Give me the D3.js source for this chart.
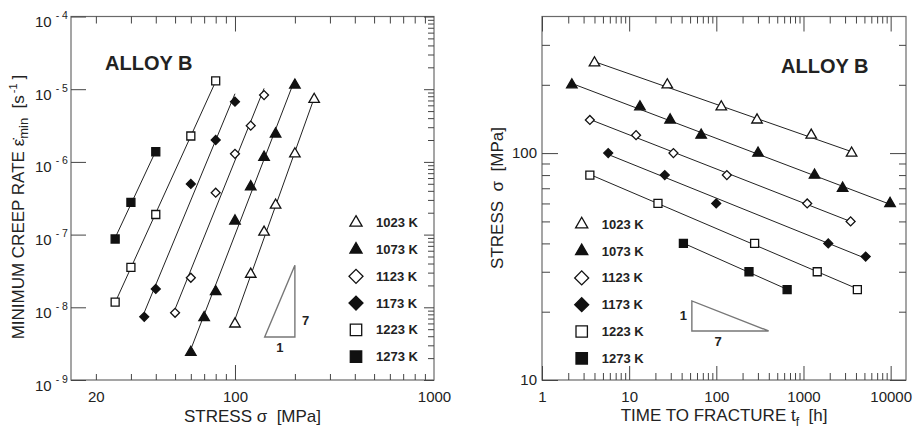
<!DOCTYPE html>
<html>
<head>
<meta charset="utf-8">
<script src="https://cdn.jsdelivr.net/npm/d3@7/dist/d3.min.js"></script>
<style>
  body { margin: 0; background: #fff; }
  svg { font-family: "Liberation Sans", Arial, Helvetica, sans-serif; }
</style>
</head>
<body>
<div id="chart"></div>
<script>
// Data
const temps = ['1023 K', '1073 K', '1123 K', '1173 K', '1223 K', '1273 K'];

// left panel: stress [MPa] vs minimum creep rate [1/s]
const creepStress = [
  [100, 120, 140, 160, 200, 250],
  [60, 70, 80, 100, 120, 140, 160, 200],
  [50, 60, 80, 100, 120, 140],
  [35, 40, 60, 80, 100],
  [25, 30, 40, 60, 80],
  [25, 30, 40]
];
const creepRate = [
  [5.9e-9, 2.85e-8, 1.08e-7, 2.55e-7, 1.29e-6, 7.26e-6],
  [2.4e-9, 7.2e-9, 1.64e-8, 1.54e-7, 4.56e-7, 1.16e-6, 2.42e-6, 1.14e-5],
  [8.4e-9, 2.55e-8, 3.77e-7, 1.29e-6, 3.15e-6, 8.3e-6],
  [7.4e-9, 1.79e-8, 4.97e-7, 2.0e-6, 6.73e-6],
  [1.18e-8, 3.55e-8, 1.89e-7, 2.27e-6, 1.3e-5],
  [8.7e-8, 2.78e-7, 1.38e-6]
];

// right panel: time to fracture [h] vs stress [MPa]
const ruptTime = [
  [4.0, 27.4, 114, 293, 1227, 3565],
  [2.2, 13.3, 29.5, 67, 301, 1339, 2812, 9840],
  [3.54, 12, 32.2, 132, 1103, 3473],
  [5.75, 25.6, 99.7, 1924, 5168],
  [3.54, 21.4, 275, 1438, 4150],
  [41.9, 237, 649]
];
const ruptStress = [
  [250, 200, 160, 140, 120, 100],
  [200, 160, 140, 120, 100, 80, 70, 60],
  [140, 120, 100, 80, 60, 50],
  [100, 80, 60, 40, 35],
  [80, 60, 40, 30, 25],
  [40, 30, 25]
];

// tick labels
const stressLabelTicks = [20, 100, 1000];
const rateExponents = [-9, -8, -7, -6, -5, -4];
const timeLabelTicks = [1, 10, 100, 1000, 10000];
const stressLabelTicksR = [10, 100];

// slope triangles (corners in data units)
const slopeTriLeftX = [141, 200];
const slopeTriLeftY = [3.9e-9, 3.8e-8];
const slopeTriRightX = [52.4, 398];
const slopeTriRightY = [16.45, 22.3];

// marker styles per temperature
const markerType = [d3.symbolTriangle, d3.symbolTriangle, d3.symbolSquare, d3.symbolSquare, d3.symbolSquare, d3.symbolSquare];
const markerFill = ['#fff', '#111', '#fff', '#111', '#fff', '#111'];
const markerRot = [0, 0, 45, 45, 0, 0];
const dataSize = [48, 48, 40, 40, 64, 64];
const legendSize = [64, 64, 98, 98, 130, 130];

const W = 917, H = 430;
const svg = d3.select('#chart').append('svg')
  .attr('width', W).attr('height', H)
  .style('background', '#fff');

const frameColor = '#6a6a6a';
const tickColor = '#444';

function minorTicks(lo, hi) {
  const out = [];
  for (let e = lo; e < hi; e++) {
    for (let m = 2; m <= 9; m++) out.push(m * Math.pow(10, e));
  }
  return out;
}

function tickAxis(g, axis, values, size) {
  const a = g.append('g').call(axis.tickValues(values).tickSize(size).tickFormat(''));
  a.select('.domain').remove();
  a.selectAll('line').attr('stroke', tickColor).attr('stroke-width', 1);
  return a;
}

function fit(xs, ys) {
  const lx = xs.map(Math.log10), ly = ys.map(Math.log10);
  const mx = d3.mean(lx), my = d3.mean(ly);
  const b = d3.sum(lx, (v, i) => (v - mx) * (ly[i] - my)) / d3.sum(lx, v => (v - mx) * (v - mx));
  const a = my - b * mx;
  const x0 = d3.min(xs), x1 = d3.max(xs);
  return [[x0, Math.pow(10, a + b * Math.log10(x0))], [x1, Math.pow(10, a + b * Math.log10(x1))]];
}

function marker(g, i, size, cx, cy) {
  g.append('path')
    .attr('d', d3.symbol().type(markerType[i]).size(size)())
    .attr('transform', `translate(${cx},${cy}) rotate(${markerRot[i]})`)
    .attr('fill', markerFill[i])
    .attr('stroke', '#111')
    .attr('stroke-width', 1.3);
}

function legend(g, x0, y0) {
  temps.forEach((t, i) => {
    const cy = y0 + i * 26.8;
    marker(g, i, legendSize[i], x0, cy);
    g.append('text')
      .attr('x', x0 + 20).attr('y', cy + 4.5)
      .attr('font-size', 13).attr('font-weight', 'bold').attr('fill', '#222')
      .text(t);
  });
}

// ---------------- left panel ----------------
const L = { left: 71, right: 434, top: 16.5, bottom: 380 };
const xL = d3.scaleLog().domain([15, 1000]).range([L.left, L.right]);
const yL = d3.scaleLog().domain([1e-9, 1e-4]).range([L.bottom, L.top]);
const gL = svg.append('g');

gL.append('rect')
  .attr('x', L.left).attr('y', L.top)
  .attr('width', L.right - L.left).attr('height', L.bottom - L.top)
  .attr('fill', 'none').attr('stroke', frameColor).attr('stroke-width', 1.2);

const xMinorL = minorTicks(1, 3);
tickAxis(gL.append('g').attr('transform', `translate(0,${L.bottom})`), d3.axisBottom(xL), [100], -15);
tickAxis(gL.append('g').attr('transform', `translate(0,${L.bottom})`), d3.axisBottom(xL), xMinorL, -6);
tickAxis(gL.append('g').attr('transform', `translate(0,${L.top})`), d3.axisTop(xL), [100], -15);
tickAxis(gL.append('g').attr('transform', `translate(0,${L.top})`), d3.axisTop(xL), xMinorL, -7);
const rateMajor = rateExponents.map(e => Math.pow(10, e));
tickAxis(gL.append('g').attr('transform', `translate(${L.left},0)`), d3.axisLeft(yL), rateMajor, -15);
tickAxis(gL.append('g').attr('transform', `translate(${L.right},0)`), d3.axisRight(yL), rateMajor, -10);
tickAxis(gL.append('g').attr('transform', `translate(${L.right},0)`), d3.axisRight(yL), minorTicks(-9, -4), -6);

// x tick labels
const xlabL = gL.append('g').attr('transform', `translate(0,${L.bottom})`)
  .call(d3.axisBottom(xL).tickValues(stressLabelTicks).tickSize(0).tickPadding(11).tickFormat(d3.format('d')));
xlabL.select('.domain').remove();
xlabL.selectAll('text').attr('font-size', 15).attr('fill', '#222').attr('font-family', null);

// y tick labels 10^n
rateExponents.forEach(e => {
  const t = gL.append('text')
    .attr('x', 35).attr('y', yL(Math.pow(10, e)) + 10.5)
    .attr('fill', '#222').attr('font-size', 15);
  t.append('tspan').text('10');
  t.append('tspan').attr('dx', 4).attr('dy', -8).attr('font-size', 10.5).text(String(e).replace('-', '- '));
});

// fit lines + points
creepStress.forEach((xs, i) => {
  const seg = fit(xs, creepRate[i]);
  gL.append('line')
    .attr('x1', xL(seg[0][0])).attr('y1', yL(seg[0][1]))
    .attr('x2', xL(seg[1][0])).attr('y2', yL(seg[1][1]))
    .attr('stroke', '#222').attr('stroke-width', 1);
});
creepStress.forEach((xs, i) => {
  xs.forEach((s, j) => marker(gL, i, dataSize[i], xL(s), yL(creepRate[i][j])));
});

// slope triangle
gL.append('path')
  .attr('d', d3.line()([
    [xL(slopeTriLeftX[0]), yL(slopeTriLeftY[0])],
    [xL(slopeTriLeftX[1]), yL(slopeTriLeftY[0])],
    [xL(slopeTriLeftX[1]), yL(slopeTriLeftY[1])]
  ]) + 'Z')
  .attr('fill', 'none').attr('stroke', '#777').attr('stroke-width', 1.4);
gL.append('text')
  .attr('x', xL(slopeTriLeftX[1]) + 7).attr('y', yL(Math.sqrt(slopeTriLeftY[0] * slopeTriLeftY[1])) + 24)
  .attr('font-size', 13).attr('font-weight', 'bold').attr('fill', '#222').text('7');
gL.append('text')
  .attr('x', xL(Math.sqrt(slopeTriLeftX[0] * slopeTriLeftX[1]))).attr('y', yL(slopeTriLeftY[0]) + 15)
  .attr('text-anchor', 'middle')
  .attr('font-size', 13).attr('font-weight', 'bold').attr('fill', '#222').text('1');

gL.append('text').attr('x', 105).attr('y', 70)
  .attr('font-size', 20).attr('font-weight', 'bold').attr('fill', '#222').text('ALLOY B');

legend(gL, 356, 222.7);

gL.append('text')
  .attr('x', (L.left + L.right) / 2).attr('y', 422)
  .attr('text-anchor', 'middle').attr('font-size', 17).attr('fill', '#222')
  .text('STRESS \u03c3\u00a0\u00a0[MPa]');

const yTitleL = gL.append('text')
  .attr('transform', `translate(24,207) rotate(-90)`)
  .attr('text-anchor', 'middle').attr('font-size', 17).attr('fill', '#222');
yTitleL.append('tspan').text('MINIMUM CREEP RATE \u03b5\u0307');
yTitleL.append('tspan').attr('font-size', 13).attr('dy', 4).text('min');
yTitleL.append('tspan').attr('dy', -4).text('\u00a0\u00a0[s');
yTitleL.append('tspan').attr('font-size', 11).attr('dx', 2).attr('dy', -7).text('-1');
yTitleL.append('tspan').attr('dx', 4).attr('dy', 7).text(']');

// ---------------- right panel ----------------
const R = { left: 542, right: 906, top: 16.5, bottom: 380 };
const xR = d3.scaleLog().domain([1, 15000]).range([R.left, R.right]);
const yR = d3.scaleLog().domain([10, 400]).range([R.bottom, R.top]);
const gR = svg.append('g');

gR.append('rect')
  .attr('x', R.left).attr('y', R.top)
  .attr('width', R.right - R.left).attr('height', R.bottom - R.top)
  .attr('fill', 'none').attr('stroke', frameColor).attr('stroke-width', 1.2);

const xMinorR = minorTicks(0, 4);
const yMinorR = minorTicks(1, 2).concat([200, 300]);
tickAxis(gR.append('g').attr('transform', `translate(0,${R.bottom})`), d3.axisBottom(xR), timeLabelTicks, -14);
tickAxis(gR.append('g').attr('transform', `translate(0,${R.bottom})`), d3.axisBottom(xR), xMinorR, -7);
tickAxis(gR.append('g').attr('transform', `translate(0,${R.top})`), d3.axisTop(xR), timeLabelTicks, -15);
tickAxis(gR.append('g').attr('transform', `translate(0,${R.top})`), d3.axisTop(xR), xMinorR, -7);
tickAxis(gR.append('g').attr('transform', `translate(${R.left},0)`), d3.axisLeft(yR), stressLabelTicksR, -16);
tickAxis(gR.append('g').attr('transform', `translate(${R.left},0)`), d3.axisLeft(yR), yMinorR, -8);
tickAxis(gR.append('g').attr('transform', `translate(${R.right},0)`), d3.axisRight(yR), stressLabelTicksR, -16);
tickAxis(gR.append('g').attr('transform', `translate(${R.right},0)`), d3.axisRight(yR), yMinorR, -7);

const xlabR = gR.append('g').attr('transform', `translate(0,${R.bottom})`)
  .call(d3.axisBottom(xR).tickValues(timeLabelTicks).tickSize(0).tickPadding(11).tickFormat(d3.format('d')));
xlabR.select('.domain').remove();
xlabR.selectAll('text').attr('font-size', 15).attr('fill', '#222').attr('font-family', null);

const ylabR = gR.append('g').attr('transform', `translate(${R.left},0)`)
  .call(d3.axisLeft(yR).tickValues(stressLabelTicksR).tickSize(0).tickPadding(5).tickFormat(d3.format('d')));
ylabR.select('.domain').remove();
ylabR.selectAll('text').attr('font-size', 15).attr('fill', '#222').attr('font-family', null);

ruptTime.forEach((xs, i) => {
  const seg = fit(xs, ruptStress[i]);
  gR.append('line')
    .attr('x1', xR(seg[0][0])).attr('y1', yR(seg[0][1]))
    .attr('x2', xR(seg[1][0])).attr('y2', yR(seg[1][1]))
    .attr('stroke', '#222').attr('stroke-width', 1);
});
ruptTime.forEach((xs, i) => {
  xs.forEach((t, j) => marker(gR, i, dataSize[i], xR(t), yR(ruptStress[i][j])));
});

gR.append('path')
  .attr('d', d3.line()([
    [xR(slopeTriRightX[0]), yR(slopeTriRightY[1])],
    [xR(slopeTriRightX[0]), yR(slopeTriRightY[0])],
    [xR(slopeTriRightX[1]), yR(slopeTriRightY[0])]
  ]) + 'Z')
  .attr('fill', 'none').attr('stroke', '#777').attr('stroke-width', 1.4);
gR.append('text')
  .attr('x', xR(slopeTriRightX[0]) - 5).attr('y', yR(Math.sqrt(slopeTriRightY[0] * slopeTriRightY[1])) + 4.5)
  .attr('text-anchor', 'end')
  .attr('font-size', 13).attr('font-weight', 'bold').attr('fill', '#222').text('1');
gR.append('text')
  .attr('x', xR(Math.sqrt(slopeTriRightX[0] * slopeTriRightX[1])) - 12).attr('y', yR(slopeTriRightY[0]) + 15)
  .attr('text-anchor', 'middle')
  .attr('font-size', 13).attr('font-weight', 'bold').attr('fill', '#222').text('7');

gR.append('text').attr('x', 781).attr('y', 73)
  .attr('font-size', 20).attr('font-weight', 'bold').attr('fill', '#222').text('ALLOY B');

legend(gR, 581.7, 224.3);

const xTitleR = gR.append('text')
  .attr('x', (R.left + R.right) / 2).attr('y', 421)
  .attr('text-anchor', 'middle').attr('font-size', 17).attr('fill', '#222');
xTitleR.append('tspan').text('TIME TO FRACTURE t');
xTitleR.append('tspan').attr('font-size', 12).attr('dy', 5).text('f');
xTitleR.append('tspan').attr('dy', -5).text('\u00a0\u00a0[h]');

gR.append('text')
  .attr('transform', `translate(503,198) rotate(-90)`)
  .attr('text-anchor', 'middle').attr('font-size', 17).attr('fill', '#222')
  .text('STRESS\u00a0\u00a0\u03c3\u00a0\u00a0[MPa]');
</script>
</body>
</html>
